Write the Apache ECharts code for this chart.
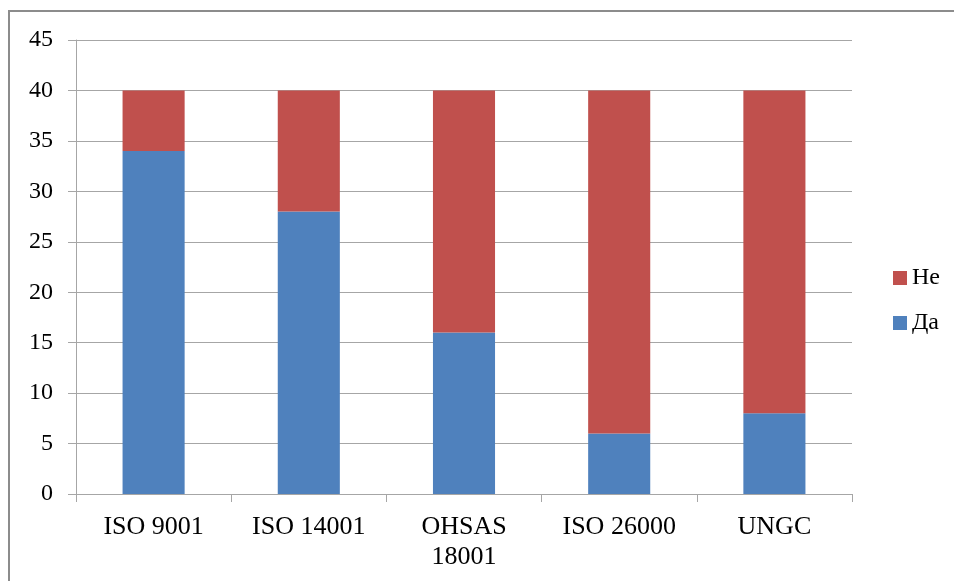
<!DOCTYPE html>
<html>
<head>
<meta charset="utf-8">
<script src="https://cdn.jsdelivr.net/npm/echarts@6/dist/echarts.min.js"></script>
<style>
  html, body { margin: 0; padding: 0; background: #fff; }
  #chart { width: 954px; height: 581px; }
</style>
</head>
<body>
<div id="chart"></div>
<script>
// Standards covered by the survey
const categories = ['ISO 9001', 'ISO 14001', 'OHSAS\n18001', 'ISO 26000', 'UNGC'];
// Answers "Да" (yes) per standard
const yesValues = [34, 28, 16, 6, 8];
// Answers "Не" (no) per standard
const noValues = [6, 12, 24, 34, 32];
// Value axis range
const yMin = 0;
const yMax = 45;
const yStep = 5;

const fontFamily = '"Liberation Serif", "Times New Roman", serif';
const gridColor = '#a6a6a6';

const chart = echarts.init(document.getElementById('chart'), null, { renderer: 'canvas' });

chart.setOption({
  animation: false,
  backgroundColor: '#ffffff',
  textStyle: { fontFamily: fontFamily },
  graphic: [{
    type: 'rect',
    shape: { x: 9, y: 11, width: 1000, height: 1000 },
    style: { fill: 'none', stroke: '#8c8c8c', lineWidth: 2 },
    silent: true
  }],
  grid: { left: 76, right: 102, top: 40, bottom: 87, containLabel: false },
  legend: {
    orient: 'vertical',
    left: 893,
    top: 266,
    padding: 0,
    itemWidth: 14,
    itemHeight: 14,
    itemGap: 21,
    icon: 'rect',
    data: ['Не', 'Да'],
    textStyle: { fontFamily: fontFamily, fontSize: 24, lineHeight: 24, color: '#000' }
  },
  xAxis: {
    type: 'category',
    data: categories,
    axisLine: { lineStyle: { color: gridColor, width: 1 } },
    axisTick: { show: true, length: 8, lineStyle: { color: gridColor } },
    axisLabel: {
      fontFamily: fontFamily, fontSize: 26, color: '#000',
      margin: 18, lineHeight: 30, interval: 0
    }
  },
  yAxis: {
    type: 'value',
    min: yMin,
    max: yMax,
    interval: yStep,
    axisLine: { show: true, lineStyle: { color: gridColor, width: 1 } },
    axisTick: { show: true, length: 8, lineStyle: { color: gridColor } },
    splitLine: { show: true, lineStyle: { color: gridColor, width: 1 } },
    axisLabel: { fontFamily: fontFamily, fontSize: 24, color: '#000', margin: 23 }
  },
  series: [
    {
      name: 'Да',
      type: 'bar',
      stack: 'total',
      data: yesValues,
      barWidth: '40%',
      itemStyle: { color: '#4f81bd' }
    },
    {
      name: 'Не',
      type: 'bar',
      stack: 'total',
      data: noValues,
      barWidth: '40%',
      itemStyle: { color: '#c0504d' }
    }
  ]
});
</script>
</body>
</html>
